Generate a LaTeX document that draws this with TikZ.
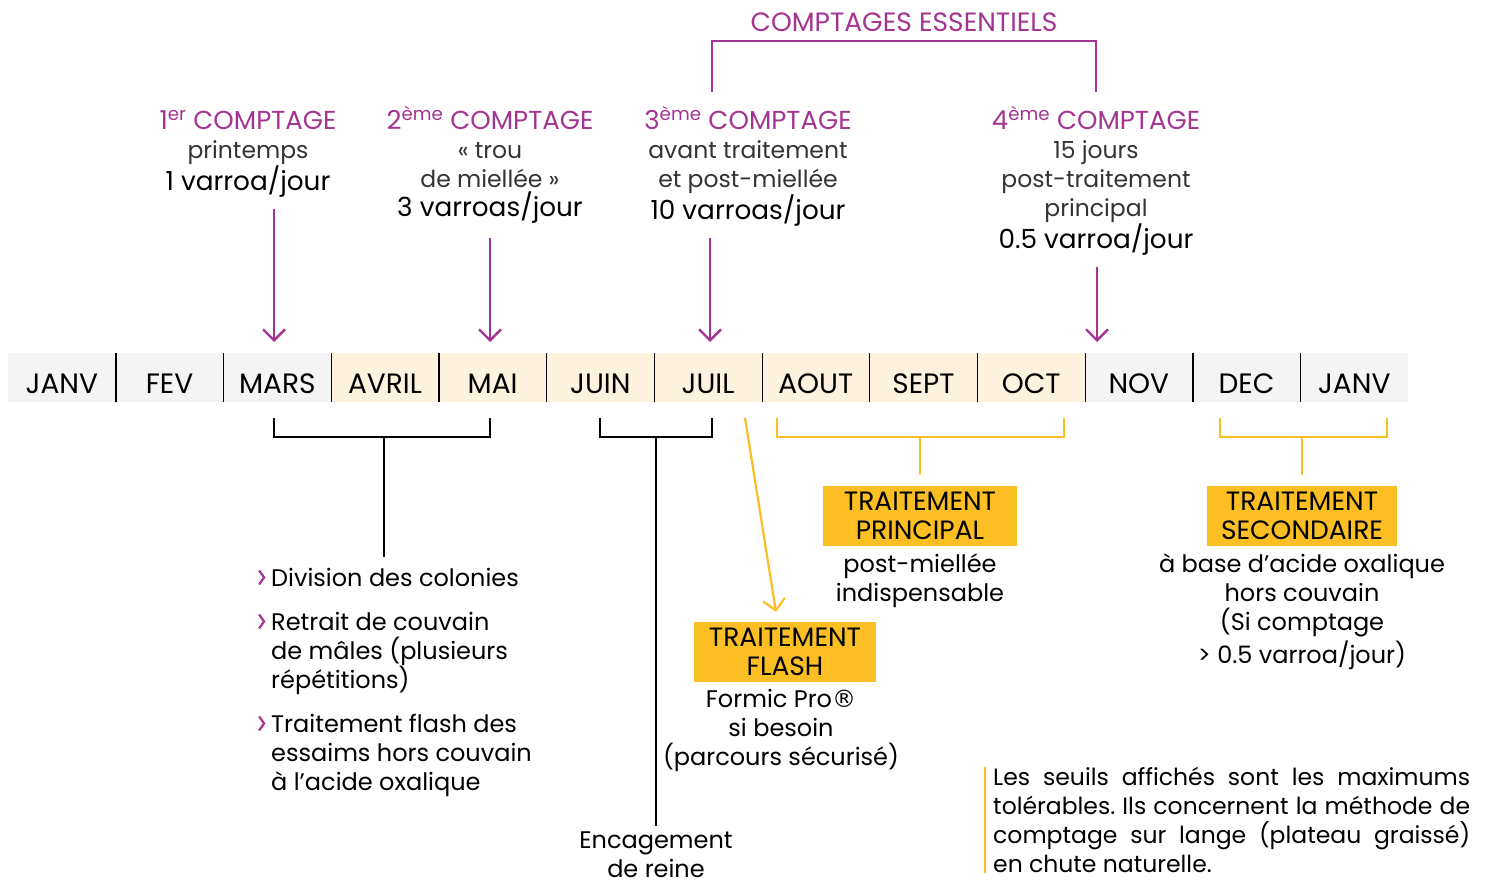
\documentclass[tikz,border=0pt]{standalone}
\usepackage{fontspec}
\setmainfont{Poppins}
\newfontfamily\symb{DejaVu Sans}
\usetikzlibrary{arrows.meta,positioning}
\definecolor{pourpre}{RGB}{164,52,146}
\definecolor{jaune}{RGB}{251,191,36}
\definecolor{gris}{RGB}{244,244,244}
\definecolor{creme}{RGB}{253,242,221}
\newcommand{\titre}[1]{{\color{pourpre}\fontsize{26}{29}\selectfont #1}}
\newcommand{\fin}[1]{{\color{black!80}\fontsize{23.5}{29}\selectfont #1}}
\newcommand{\seuil}[1]{{\fontsize{26.3}{29}\selectfont #1}}
\newcommand{\puce}{\llap{\tikz[baseline=0pt]\draw[pourpre, line width=2.2pt] (0pt,16pt) -- (5pt,9pt) -- (0pt,2pt);\hspace{6pt}}}
\tikzset{
  mois/.style={minimum width=107.7pt, minimum height=49pt, inner sep=0pt,
               text height=31pt, text depth=0pt, font=\fontsize{28}{30}\selectfont},
  comptage/.style={anchor=north, inner sep=0pt, align=center, font=\fontsize{23.5}{29}\selectfont},
  fleche/.style={pourpre, line width=2.4pt, -{Straight Barb[length=11pt, width=22pt]}},
  crochet/.style={line width=2.6pt},
  crochetj/.style={jaune, line width=2.6pt},
  boite/.style={fill=jaune, inner sep=0pt, align=center, font=\fontsize{26.5}{29}\selectfont},
  texte/.style={inner sep=0pt, align=center, font=\fontsize{24}{29}\selectfont}
}
\begin{document}
\begin{tikzpicture}[x=1pt, y=-1pt]
        \useasboundingbox (0,0) rectangle (1485,883);                        %cadre
        % barre des mois
        \node[mois, fill=gris]  (janv)  at (61.85,377.5)  {JANV};              %
        \node[mois, fill=gris]  (fev)   at (169.55,377.5) {FEV};               %
        \node[mois, fill=gris]  (mars)  at (277.25,377.5) {MARS};              %
        \node[mois, fill=creme] (avril) at (384.95,377.5) {AVRIL};             %
        \node[mois, fill=creme] (mai)   at (492.65,377.5) {MAI};               %
        \node[mois, fill=creme] (juin)  at (600.35,377.5) {JUIN};              %
        \node[mois, fill=creme] (juil)  at (708.05,377.5) {JUIL};              %
        \node[mois, fill=creme] (aout)  at (815.75,377.5) {AOUT};              %
        \node[mois, fill=creme] (sept)  at (923.45,377.5) {SEPT};              %
        \node[mois, fill=creme] (oct)   at (1031.15,377.5) {OCT};              %
        \node[mois, fill=gris]  (nov)   at (1138.85,377.5) {NOV};              %
        \node[mois, fill=gris]  (dec)   at (1246.55,377.5) {DEC};              %
        \node[mois, fill=gris]  (janvb) at (1354.25,377.5) {JANV};             %
        \foreach \m in {janv,fev,mars,avril,mai,juin,juil,aout,sept,oct,nov,dec}
          \draw [line width=1.2pt] (\m.north east) -- (\m.south east);        %separateurs
        % comptages
        \node[comptage] (c1) at (248,110)  {\titre{1\textsuperscript{er} COMPTAGE}\\\fin{printemps}\\\seuil{1 varroa/jour}};
        \node[comptage] (c2) at (490,106)  {\titre{2\textsuperscript{ème} COMPTAGE}\\\fin{« trou}\\\fin{de miellée »}\\\seuil{3 varroas/jour}};
        \node[comptage] (c3) at (748,106)  {\titre{3\textsuperscript{ème} COMPTAGE}\\\fin{avant traitement}\\\fin{et post-miellée}\\\seuil{10 varroas/jour}};
        \node[comptage] (c4) at (1096,106) {\titre{4\textsuperscript{ème} COMPTAGE}\\\fin{15 jours}\\\fin{post-traitement}\\\fin{principal}\\\seuil{0.5 varroa/jour}};
        \node[comptage, text=pourpre, font=\fontsize{26.5}{29}\selectfont] (ess) at (904,13) {COMPTAGES ESSENTIELS};
        \coordinate (p1) at (274,342);                                        %pointes
        \coordinate (p2) at (490,342);                                        %
        \coordinate (p3) at (710,342);                                        %
        \coordinate (p4) at (1097,342);                                       %
        \draw [fleche] ([yshift=-12pt]c1.south -| p1) -- (p1);               %
        \draw [fleche] ([yshift=-14pt]c2.south -| p2) -- (p2);               %
        \draw [fleche] ([yshift=-12pt]c3.south -| p3) -- (p3);               %
        \draw [fleche] ([yshift=-12pt]c4.south -| p4) -- (p4);               %
        \draw [pourpre, line width=2.4pt] ([yshift=14pt]c3.north -| 712,0) |- ([yshift=-9pt]ess.south) -| ([yshift=14pt]c4.north);
        % crochets sous la barre
        \coordinate (b1) at (274,418);   \coordinate (b2) at (490,418);       %
        \coordinate (b3) at (600,418);   \coordinate (b4) at (712,418);       %
        \coordinate (y1) at (777,418);   \coordinate (y2) at (1064,418);      %
        \coordinate (y3) at (1220,418);  \coordinate (y4) at (1387,418);      %
        \coordinate (m1) at (384,437);   \coordinate (m2) at (656,437);       %
        \coordinate (m3) at (920,437);   \coordinate (m4) at (1302,437);      %
        \draw [crochet]  (b1) -- ++(0,19) -| (b2);                            %essaimage
        \draw [crochet]  (b3) -- ++(0,19) -| (b4);                            %encagement
        \draw [crochetj] (y1) -- ++(0,19) -| (y2);                            %principal
        \draw [crochetj] (y3) -- ++(0,19) -| (y4);                            %secondaire
        % liste
        \node[texte, anchor=north west, align=left] (liste) at (271,568)
          {\puce Division des colonies\\[15pt]\puce Retrait de couvain\\de mâles (plusieurs\\répétitions)\\[15pt]\puce Traitement flash des\\essaims hors couvain\\à l’acide oxalique};
        \node[texte, anchor=north] (encag) at (656,832) {Encagement\\de reine};
        % traitements
        \node[boite, minimum width=194pt, minimum height=60pt] (princ) at (920,516)   {TRAITEMENT\\PRINCIPAL};
        \node[boite, minimum width=182pt, minimum height=60pt] (flash) at (785,652)   {TRAITEMENT\\FLASH};
        \node[boite, minimum width=190pt, minimum height=60pt] (second) at (1302,516) {TRAITEMENT\\SECONDAIRE};
        \node[texte, below=7pt of princ]  (dprinc)  {post-miellée\\indispensable};
        \node[texte, below=7pt of flash, xshift=-4pt] (dflash) {Formic Pro{\symb ®}\\si besoin\\(parcours sécurisé)};
        \node[texte, below=7pt of second] (dsecond) {à base d’acide oxalique\\hors couvain\\(Si comptage\\[3pt]> 0.5 varroa/jour)};
        \draw [crochet]  (m1) -- ([yshift=11pt]liste.north -| m1);            %
        \draw [crochet]  (m2) -- ([yshift=6pt]encag.north);                   %
        \draw [crochetj] (m3) -- ([yshift=11pt]princ.north);                  %
        \draw [crochetj] (m4) -- ([yshift=11pt]second.north);                 %
        \coordinate (f1) at (745,418);   \coordinate (f2) at (776,612);       %
        \draw [crochetj, line width=2.2pt, -{Straight Barb[length=11pt, width=22pt]}] (f1) -- (f2);
        % remarque
        \node[texte, anchor=north west, align=justify, text width=477pt, font=\fontsize{23.5}{29}\selectfont\frenchspacing] (note) at (993,767)
          {Les seuils affichés sont les maximums\linebreak tolérables. Ils concernent la méthode de\linebreak comptage sur lange (plateau graissé)\linebreak en chute naturelle.};
        \draw [jaune, line width=2pt] ([xshift=-8pt]note.north west) -- ([xshift=-8pt]note.south west);
       \end{tikzpicture}
\end{document}
